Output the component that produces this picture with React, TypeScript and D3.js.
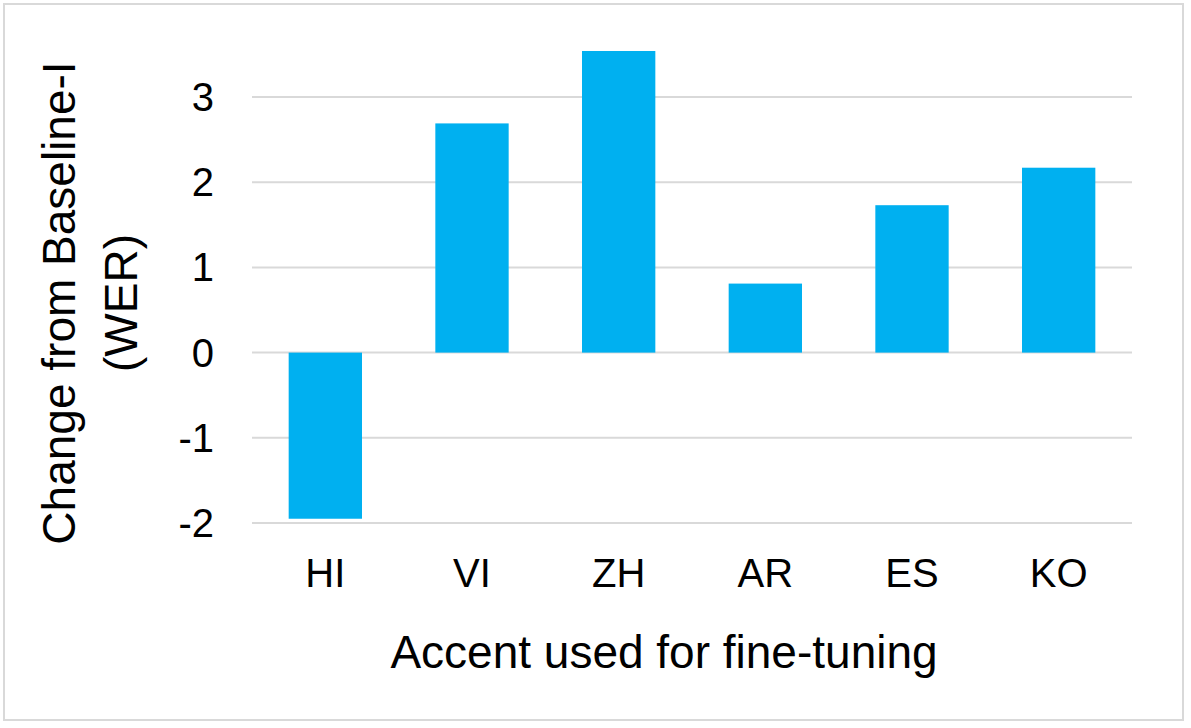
import React from 'react';
import * as d3 from 'd3';

const accents = ['HI', 'VI', 'ZH', 'AR', 'ES', 'KO'];
const werChange = [-1.95, 2.69, 3.54, 0.81, 1.73, 2.17];
const yTicks = [-2, -1, 0, 1, 2, 3];

const W = 1191;
const H = 728;
const font = '"Liberation Sans", Arial, sans-serif';

const App = () => {
  const x = d3.scaleBand<string>()
    .domain(accents)
    .range([252, 1132])
    .paddingInner(0.5)
    .paddingOuter(0.25);

  const y = d3.scaleLinear().domain([-2, 3]).range([523, 97]);

  return (
    <svg width={W} height={H} style={{ position: 'absolute', left: 0, top: 0 }}>
      <rect x={0} y={0} width={W} height={H} fill="#fff" />
      <rect x={4} y={4} width={1179} height={716} fill="#fff" stroke="#d9d9d9" strokeWidth={2} />

      {yTicks.map(t => (
        <g key={t}>
          <line x1={252} x2={1132} y1={y(t)} y2={y(t)} stroke="#d9d9d9" strokeWidth={2} />
          <text x={214} y={y(t)} dy="0.35em" textAnchor="end" fontFamily={font} fontSize={40} fill="#000">
            {t}
          </text>
        </g>
      ))}

      {accents.map((a, i) => (
        <rect
          key={a}
          x={x(a)}
          width={x.bandwidth()}
          y={y(Math.max(0, werChange[i]))}
          height={Math.abs(y(werChange[i]) - y(0))}
          fill="#00b0f0"
        />
      ))}

      {accents.map(a => (
        <text key={a} x={(x(a) ?? 0) + x.bandwidth() / 2} y={587} textAnchor="middle" fontFamily={font} fontSize={40} fill="#000">
          {a}
        </text>
      ))}

      <text x={664} y={668} textAnchor="middle" fontFamily={font} fontSize={46} fill="#000">
        Accent used for fine-tuning
      </text>

      <text transform="translate(75,303) rotate(-90)" textAnchor="middle" fontFamily={font} fontSize={46} fill="#000">
        Change from Baseline-I
      </text>
      <text transform="translate(137,303) rotate(-90)" textAnchor="middle" fontFamily={font} fontSize={46} fill="#000">
        (WER)
      </text>
    </svg>
  );
};

export default App;
